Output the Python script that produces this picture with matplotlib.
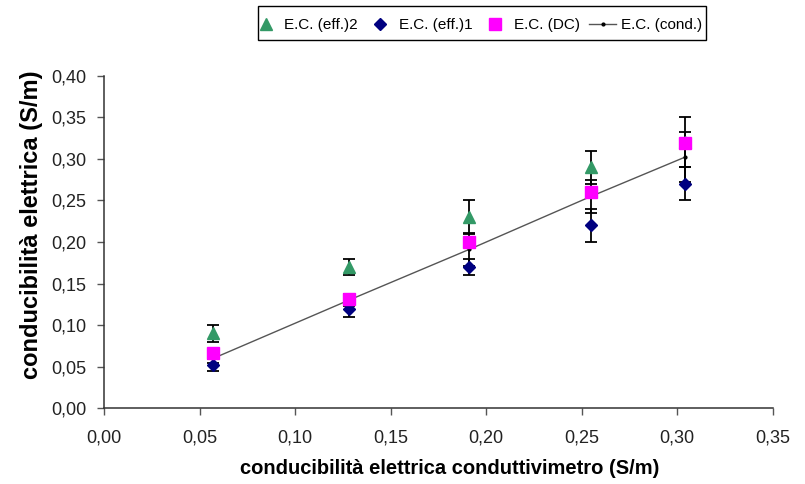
"""
Conducibilità elettrica: stime (eff.)1, (eff.)2, DC vs conduttivimetro.
"""

import matplotlib
matplotlib.use("Agg")
import matplotlib.pyplot as plt
from matplotlib.patches import Rectangle
from matplotlib.ticker import FuncFormatter, MultipleLocator

plt.rcParams["font.family"] = ["Liberation Sans", "DejaVu Sans"]

# x: conduttivimetro (S/m)
x_cond = [0.057, 0.128, 0.191, 0.255, 0.304]

eff2 = [0.090, 0.170, 0.230, 0.290, 0.320]
eff2_err = [0.010, 0.010, 0.020, 0.020, 0.030]

eff1 = [0.052, 0.120, 0.170, 0.220, 0.270]
eff1_err = [0.007, 0.010, 0.010, 0.020, 0.020]

dc = [0.066, 0.132, 0.200, 0.260, 0.319]

cond = [0.060, 0.130, 0.191, 0.255, 0.302]
cond_err = [0.005, 0.007, 0.020, 0.020, 0.030]

X_LABEL = "conducibilità elettrica conduttivimetro (S/m)"
Y_LABEL = "conducibilità elettrica (S/m)"


def comma(v, _pos):
    return f"{v:.2f}".replace(".", ",")


def main() -> None:
    fig = plt.figure(figsize=(8.05, 4.84), dpi=100)
    ax = fig.add_axes([0.1296, 0.1564, 0.9599 - 0.1296, 0.8436 - 0.1564])

    eb = dict(ecolor="black", elinewidth=1.3, capsize=4.5, capthick=1.3, zorder=2)

    ax.errorbar(x_cond, cond, yerr=cond_err, fmt="none", **eb)
    ax.errorbar(x_cond, eff2, yerr=eff2_err, fmt="none", **eb)
    ax.errorbar(x_cond, eff1, yerr=eff1_err, fmt="none", **eb)

    h_cond, = ax.plot(x_cond, cond, color="#555555", lw=1.0, marker="o",
                      ms=2, mfc="black", mec="black", zorder=3)
    h_eff2, = ax.plot(x_cond, eff2, ls="none", marker="^", ms=9,
                      color="#339966", zorder=4)
    h_eff1, = ax.plot(x_cond, eff1, ls="none", marker="D", ms=6.5,
                      color="#000080", zorder=4)
    h_dc, = ax.plot(x_cond, dc, ls="none", marker="s", ms=8,
                    color="#FF00FF", zorder=5)

    ax.set_xlim(0, 0.35)
    ax.set_ylim(0, 0.40)
    ax.xaxis.set_major_locator(MultipleLocator(0.05))
    ax.yaxis.set_major_locator(MultipleLocator(0.05))
    ax.xaxis.set_major_formatter(FuncFormatter(comma))
    ax.yaxis.set_major_formatter(FuncFormatter(comma))

    for side in ("top", "right"):
        ax.spines[side].set_visible(False)
    for side in ("left", "bottom"):
        ax.spines[side].set_color("#333333")
        ax.spines[side].set_linewidth(1.1)
    ax.tick_params(axis="both", direction="out", length=5, width=1,
                   color="#555555", labelsize=13, labelcolor="#222222")
    ax.tick_params(axis="x", pad=10)
    ax.tick_params(axis="y", pad=8)

    ax.set_xlabel(X_LABEL, fontsize=14.5, fontweight="bold")
    ax.set_ylabel(Y_LABEL, fontsize=17, fontweight="bold")
    ax.xaxis.set_label_coords(0.516, -0.152)
    ax.yaxis.set_label_coords(-0.092, 0.551)

    fig.legend(
        [h_eff2, h_eff1, h_dc, h_cond],
        ["E.C. (eff.)2", "E.C. (eff.)1", "E.C. (DC)", "E.C. (cond.)"],
        loc="center",
        bbox_to_anchor=(0.5925, 0.948),
        borderaxespad=0,
        borderpad=0,
        ncol=4,
        fontsize=11,
        frameon=False,
        handlelength=1.8,
        handletextpad=0.3,
        columnspacing=0.6,
    )
    # legend frame as drawn in the original (tighter than matplotlib's)
    fig.patches.append(Rectangle((0.3205, 0.9174), 0.877 - 0.3205, 0.9876 - 0.9174,
                                 transform=fig.transFigure, fill=False,
                                 edgecolor="black", linewidth=1.0))

    fig.savefig("out.png", dpi=100)
    plt.close(fig)


if __name__ == "__main__":
    main()
